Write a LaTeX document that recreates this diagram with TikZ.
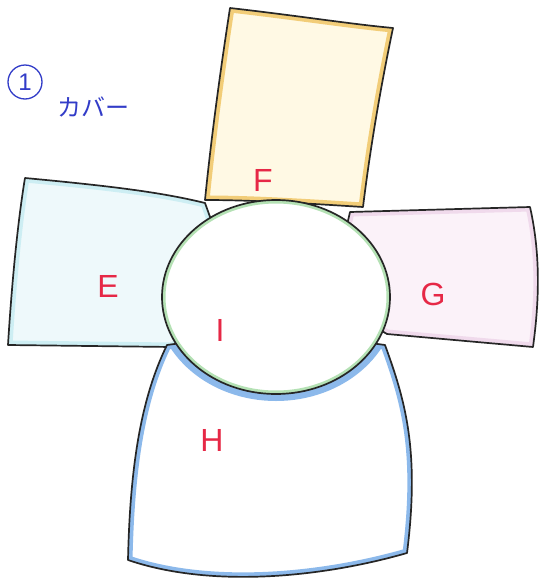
\documentclass[tikz,border=0pt]{standalone}
\usepackage{fontspec}
\setmainfont{Liberation Sans}
\newfontfamily\jpfont{Noto Sans CJK JP}
\definecolor{inkred}{RGB}{230,40,70}
\definecolor{inkblue}{RGB}{50,60,200}
\definecolor{paleE}{RGB}{238,249,251}
\definecolor{paleG}{RGB}{251,242,249}
\definecolor{paleF}{RGB}{255,249,228}
\definecolor{rimF}{RGB}{242,205,120}
\definecolor{rimH}{RGB}{140,185,235}
\definecolor{rimI}{RGB}{180,225,180}
\definecolor{rimE}{RGB}{205,238,243}
\definecolor{rimG}{RGB}{240,218,236}

\begin{document}
\begin{tikzpicture}[
    x=1pt, y=-1pt,
    outline/.style={draw=black!85, line width=1.7pt, line join=round},
    rim/.style={line width=9pt, line join=round},
    letter/.style={text=inkred, font=\fontsize{32}{32}\selectfont}
]
\useasboundingbox (0,0) rectangle (547,584);
\fill[white] (0,0) rectangle (547,584);
% left flap E
\def\shapeE{(25,178) .. controls (110,186) and (160,192) .. (205,203) -- (240,300) -- (172,347) -- (8,345) .. controls (12,280) and (18,220) .. cycle}
\begin{scope}
\clip \shapeE;
\path[fill=paleE, draw=rimE, rim] \shapeE;
\end{scope}
\draw[outline] \shapeE;
% right flap G
\def\shapeG{(350,212) -- (530,207) .. controls (542,260) and (538,310) .. (533,347) -- (387,334) -- (330,300) -- cycle}
\begin{scope}
\clip \shapeG;
\path[fill=paleG, draw=rimG, rim] \shapeG;
\end{scope}
\draw[outline] \shapeG;
% bottom part H
\def\shapeH{(167,345) -- (276,330) -- (385,345) .. controls (405,400) and (420,450) .. (407,553) .. controls (320,578) and (210,588) .. (128,560) .. controls (130,470) and (140,400) .. cycle}
\begin{scope}
\clip \shapeH;
\path[fill=white, draw=rimH, rim] \shapeH;
\draw[rimH, line width=14pt] (276,297) ellipse[x radius=114, y radius=97];
\end{scope}
\draw[outline] \shapeH;
% top part F
\def\shapeF{(230,8) .. controls (300,16) and (350,24) .. (393,28) .. controls (380,90) and (370,150) .. (363,207) .. controls (300,203) and (250,200) .. (205,200) .. controls (212,130) and (222,60) .. cycle}
\begin{scope}
\clip \shapeF;
\path[fill=paleF, draw=rimF, rim] \shapeF;
\end{scope}
\draw[outline] \shapeF;
% centre disc I
\begin{scope}
\clip (276,297) ellipse[x radius=114, y radius=97];
\path[fill=white, draw=rimI, line width=7pt] (276,297) ellipse[x radius=114, y radius=97];
\end{scope}
\draw[outline] (276,297) ellipse[x radius=114, y radius=97];
% labels
\node[letter] (F) at (263,180) {F};
\node[letter] (E) at (108,286) {E};
\node[letter] (G) at (433,294) {G};
\node[letter] (I) at (220,330) {I};
\node[letter] (H) at (212,440) {H};
\node[circle, draw=inkblue, line width=1.3pt, minimum size=34pt, inner sep=0pt, text=inkblue, font=\fontsize{24}{24}\selectfont] (num) at (25,82) {1};
\node[text=inkblue, font=\jpfont\fontsize{24}{24}\selectfont] (title) at (93,107) {カバー};
\end{tikzpicture}
\end{document}
